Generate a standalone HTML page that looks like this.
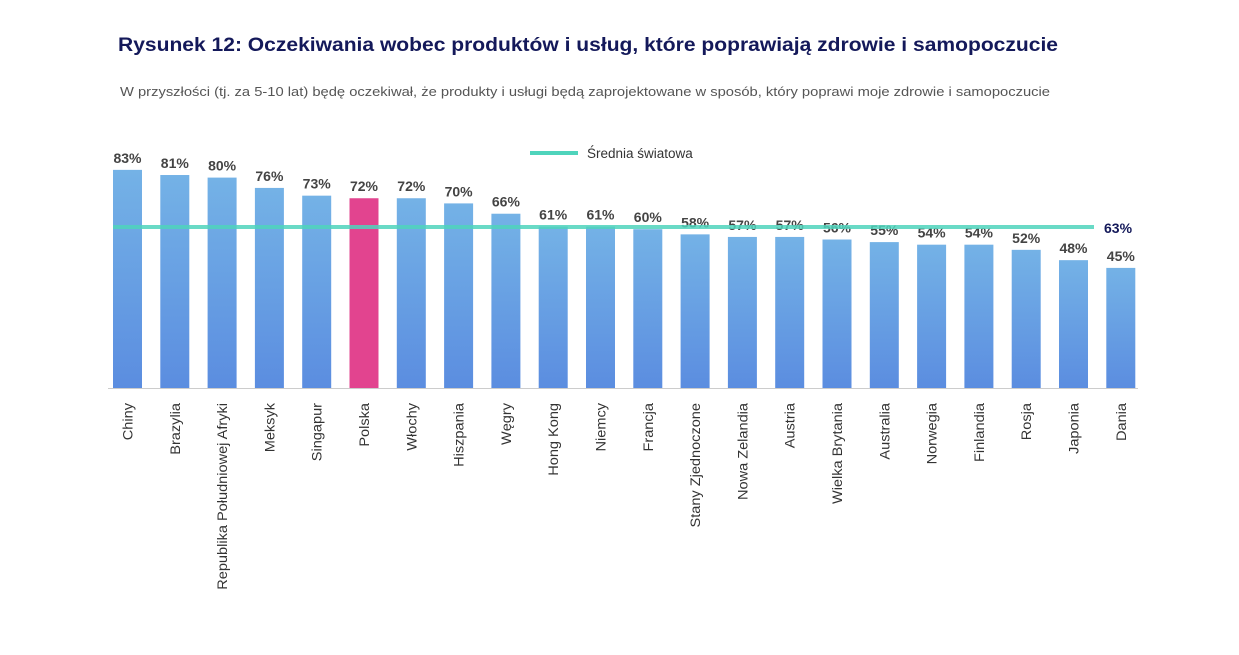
<!DOCTYPE html>
<html><head><meta charset="utf-8"><style>
body{margin:0;background:#fff;font-family:"Liberation Sans","DejaVu Sans",sans-serif;}
</style></head><body>
<svg width="1239" height="650" xmlns="http://www.w3.org/2000/svg">
<defs><linearGradient id="g" x1="0" y1="0" x2="0" y2="1"><stop offset="0" stop-color="#74b2e6"/><stop offset="1" stop-color="#5b8de0"/></linearGradient></defs>
<text x="118" y="51" font-size="19" font-weight="bold" fill="#14195a" textLength="940" lengthAdjust="spacingAndGlyphs">Rysunek 12: Oczekiwania wobec produktów i usług, które poprawiają zdrowie i samopoczucie</text>
<text x="120" y="96" font-size="13" fill="#555" textLength="930" lengthAdjust="spacingAndGlyphs">W przyszłości (tj. za 5-10 lat) będę oczekiwał, że produkty i usługi będą zaprojektowane w sposób, który poprawi moje zdrowie i samopoczucie</text>
<line x1="530" y1="153" x2="578" y2="153" stroke="#4fd4bc" stroke-width="4"/>
<text x="587" y="158" font-size="13.5" fill="#333">Średnia światowa</text>
<g id="bars"></g>
</svg>
<script>
const categories=["Chiny","Brazylia","Republika Południowej Afryki","Meksyk","Singapur","Polska","Włochy","Hiszpania","Węgry","Hong Kong","Niemcy","Francja","Stany Zjednoczone","Nowa Zelandia","Austria","Wielka Brytania","Australia","Norwegia","Finlandia","Rosja","Japonia","Dania"];
const values=[83,81,80,76,73,72,72,70,66,61,61,60,58,57,57,56,55,54,54,52,48,45];
const average=[63];
const highlight=["Polska"];
const NS="http://www.w3.org/2000/svg";
const g=document.getElementById('bars');
const base=388, x0=113, step=47.3, bw=29;
function yScale(v){return base-(4+2.58*v);}
function xScale(i){return x0+i*step;}
function mk(t,a){const e=document.createElementNS(NS,t);for(const k in a)e.setAttribute(k,a[k]);g.appendChild(e);return e;}
const ax=mk('line',{x1:108,y1:base+0.5,x2:1138,y2:base+0.5,stroke:'#ccc','stroke-width':1});


categories.forEach((c,i)=>{
  const x=xScale(i),y=yScale(values[i]);
  const r=mk('rect',{x:x,y:y,width:bw,height:base-y,fill:highlight.includes(c)?'#e2448f':'url(#g)'});
  
  
  const t=mk('text',{x:x+bw/2,y:y-7,'text-anchor':'middle','font-size':14,'font-weight':'bold',fill:'#444'});
  t.textContent=values[i]+'%';
  
  
  const l=mk('text',{transform:`translate(${x+bw/2+5},403) rotate(-90) scale(1.04,1)`,'text-anchor':'end','font-size':14,fill:'#333'});
  l.textContent=c;
  
  
});
const ay=yScale(average[0])+5.5;
const al=mk('line',{x1:113,y1:ay,x2:1094,y2:ay,stroke:'#4fd4bc','stroke-width':4,'stroke-opacity':0.85});


const at=mk('text',{x:1104,y:ay+6,'font-size':14,'font-weight':'bold',fill:'#14195a'});
at.textContent=average[0]+'%';


</script>
</body></html>
